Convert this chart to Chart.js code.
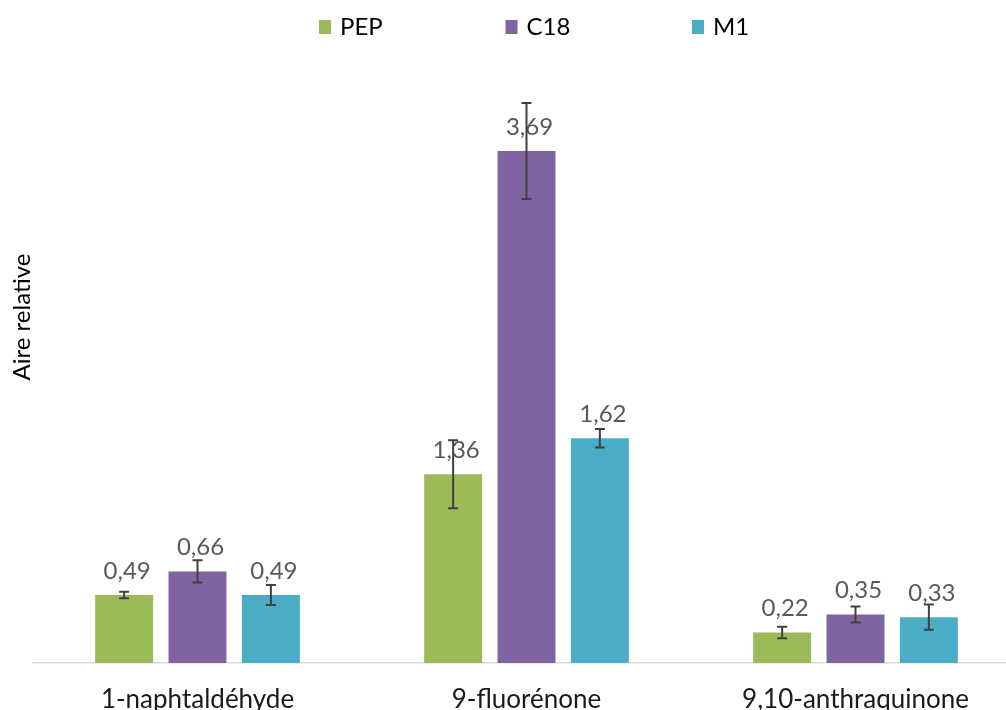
<!DOCTYPE html>
<html><head><meta charset="utf-8">
<script src="https://cdn.jsdelivr.net/npm/chart.js@4.4.0/dist/chart.umd.min.js"></script>
<style>
html,body{margin:0;padding:0;background:#fff;overflow:hidden;width:1006px;height:710px}
#wrap{position:absolute;left:0;top:0;width:1020px;height:710px}
</style>
</head><body><div id="wrap"><canvas id="c" width="1020" height="710"></canvas></div>
<script>
const categories = ['1-naphtaldéhyde', '9-fluorénone', '9,10-anthraquinone'];
const seriesNames = ['PEP', 'C18', 'M1'];
const pepValues = [0.49, 1.36, 0.22];
const c18Values = [0.66, 3.69, 0.35];
const m1Values = [0.49, 1.62, 0.33];
const pepErrors = [0.024, 0.245, 0.042];
const c18Errors = [0.08, 0.346, 0.058];
const m1Errors = [0.072, 0.066, 0.091];

const FONT = 'Lato, "Open Sans", sans-serif';
const colors = ['#9BBB59', '#8064A2', '#4BACC6'];
const errs = [pepErrors, c18Errors, m1Errors];

const legendPlugin = {
  id: 'customLegend',
  afterDraw(chart) {
    const ctx = chart.ctx;
    ctx.save();
    chart.data.datasets.forEach((ds, i) => {
      const x = 319 + i * 186.5;
      ctx.fillStyle = ds.backgroundColor;
      ctx.fillRect(x, 20, 12, 14);
      ctx.fillStyle = '#000';
      ctx.font = '24px ' + FONT;
      ctx.textBaseline = 'middle';
      ctx.textAlign = 'left';
      ctx.fillText(ds.label, x + 21, 27.5);
    });
    ctx.restore();
  }
};

const yTitlePlugin = {
  id: 'yTitle',
  afterDraw(chart) {
    const ctx = chart.ctx;
    ctx.save();
    ctx.translate(22, 317);
    ctx.rotate(-Math.PI / 2);
    ctx.fillStyle = '#000';
    ctx.font = '24px ' + FONT;
    ctx.textAlign = 'center';
    ctx.textBaseline = 'middle';
    ctx.fillText('Aire relative', 0, 0);
    ctx.restore();
  }
};

const labelsErrPlugin = {
  id: 'labelsErr',
  afterDatasetsDraw(chart) {
    const ctx = chart.ctx;
    const ys = chart.scales.y;
    ctx.save();
    chart.data.datasets.forEach((ds, i) => {
      const meta = chart.getDatasetMeta(i);
      meta.data.forEach((bar, j) => {
        const v = ds.data[j];
        ctx.fillStyle = '#595959';
        ctx.font = '24px ' + FONT;
        ctx.textAlign = 'center';
        ctx.textBaseline = 'alphabetic';
        ctx.fillText(v.toFixed(2).replace('.', ','), bar.x + 3, bar.y - 16);
      });
    });
    chart.data.datasets.forEach((ds, i) => {
      const meta = chart.getDatasetMeta(i);
      meta.data.forEach((bar, j) => {
        const v = ds.data[j];
        const e = errs[i][j];
        const yT = ys.getPixelForValue(v + e);
        const yB = ys.getPixelForValue(v - e);
        ctx.strokeStyle = '#404040';
        ctx.lineWidth = 2;
        ctx.beginPath();
        ctx.moveTo(bar.x, yT); ctx.lineTo(bar.x, yB);
        ctx.moveTo(bar.x - 5, yT); ctx.lineTo(bar.x + 5, yT);
        ctx.moveTo(bar.x - 5, yB); ctx.lineTo(bar.x + 5, yB);
        ctx.stroke();
      });
    });
    ctx.restore();
  }
};

new Chart(document.getElementById('c'), {
  type: 'bar',
  data: {
    labels: categories,
    datasets: [
      { label: seriesNames[0], data: pepValues, backgroundColor: colors[0] },
      { label: seriesNames[1], data: c18Values, backgroundColor: colors[1] },
      { label: seriesNames[2], data: m1Values, backgroundColor: colors[2] }
    ]
  },
  options: {
    responsive: false,
    animation: false,
    devicePixelRatio: 1,
    categoryPercentage: 0.669,
    barPercentage: 0.79,
    layout: { padding: { left: 33, right: 0, top: 108, bottom: 0 } },
    plugins: { legend: { display: false }, tooltip: { enabled: false } },
    scales: {
      x: {
        grid: { display: false, drawTicks: false },
        border: { display: true, color: '#d9d9d9', width: 1.5 },
        ticks: { color: '#1a1a1a', font: { family: FONT, size: 26 }, padding: 21, maxRotation: 0 },
        afterFit(s) { s.height = 47; }
      },
      y: { display: false, min: 0, max: 4 }
    }
  },
  plugins: [legendPlugin, yTitlePlugin, labelsErrPlugin]
});
</script>
</body></html>
